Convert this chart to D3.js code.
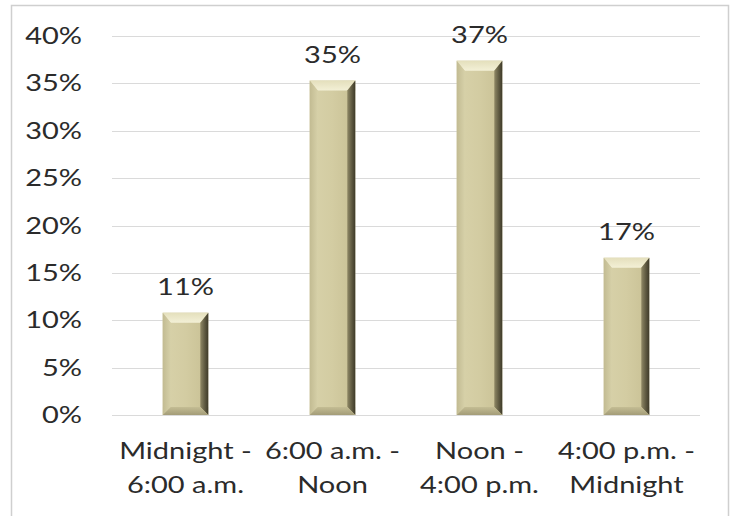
<!DOCTYPE html>
<html>
<head>
<meta charset="utf-8">
<script src="https://cdn.jsdelivr.net/npm/d3@7"></script>
<style>
  html, body { margin: 0; padding: 0; background: #fff; }
  svg { display: block; }
  text { font-family: Lato, "Open Sans", sans-serif; fill: #2b2b2b; }
</style>
</head>
<body>
<svg id="chart" width="734" height="516"></svg>
<script>
// Share of incidents by time of day
const categories = [["Midnight -", "6:00 a.m."], ["6:00 a.m. -", "Noon"], ["Noon -", "4:00 p.m."], ["4:00 p.m. -", "Midnight"]];
const values = [0.108, 0.353, 0.374, 0.166];
const yTicks = [0, 0.05, 0.10, 0.15, 0.20, 0.25, 0.30, 0.35, 0.40];

const width = 734, height = 516;
const margin = { top: 36, right: 34, bottom: 101, left: 112 };
const fontSize = 29;      // text is drawn wide and slightly flattened
const squash = 0.78;
const svg = d3.select("#chart");

// place a text label at (px, baseline py) with the flattened lettering
function label(parent, px, py, str, anchor) {
  return parent.append("text")
    .attr("transform", `translate(${px},${py}) scale(1,${squash})`)
    .attr("text-anchor", anchor || "middle")
    .style("font-size", fontSize + "px")
    .text(str);
}

// outer frame
svg.append("rect")
  .attr("x", 11.5).attr("y", 5.5)
  .attr("width", 717).attr("height", 520)
  .attr("fill", "none").attr("stroke", "#cfcfcf").attr("stroke-width", 1.5);

const x = d3.scaleBand()
  .domain(d3.range(categories.length))
  .range([margin.left, width - margin.right])
  .paddingInner(0.69).paddingOuter(0.345);

const y = d3.scaleLinear()
  .domain([0, 0.40])
  .range([height - margin.bottom, margin.top]);

const pct = d3.format(".0%");

// gridlines
svg.append("g").selectAll("line").data(yTicks).join("line")
  .attr("x1", margin.left).attr("x2", width - margin.right)
  .attr("y1", d => Math.round(y(d)) + 0.5).attr("y2", d => Math.round(y(d)) + 0.5)
  .attr("stroke", "#dadada").attr("stroke-width", 1.2);

// y axis labels
const yg = svg.append("g");
yTicks.forEach(t => label(yg, 82, y(t) + 8, pct(t), "end"));

// x axis labels (two lines)
const xg = svg.append("g");
categories.forEach((lines, i) => {
  const cx = x(i) + x.bandwidth() / 2;
  lines.forEach((ln, j) => label(xg, cx, y(0) + 44 + j * 34, ln));
});

// bevel gradients
const defs = svg.append("defs");
function grad(id, x2, y2, stops) {
  const g = defs.append("linearGradient").attr("id", id)
    .attr("x1", 0).attr("y1", 0).attr("x2", x2).attr("y2", y2);
  stops.forEach(([o, c]) => g.append("stop").attr("offset", o).attr("stop-color", c));
}
grad("face", 1, 0, [[0, "#d8d2aa"], [0.5, "#d3cca2"], [1, "#c8c094"]]);
grad("bevTop", 0, 1, [[0, "#e4dfbc"], [1, "#f3f0d6"]]);
grad("bevLeft", 1, 0, [[0, "#c2bb92"], [1, "#d6d0a8"]]);
grad("bevRight", 1, 0, [[0, "#8f8865"], [0.6, "#5c573f"], [1, "#3e3a29"]]);
grad("bevBottom", 0, 1, [[0, "#c4bd94"], [1, "#a39c78"]]);

const b = 8;
const bars = svg.append("g").selectAll("g").data(values).join("g");
bars.each(function (v, i) {
  const g = d3.select(this);
  const x0 = x(i), x1 = x(i) + x.bandwidth();
  const y0 = y(v), y1 = y(0);
  g.append("rect").attr("x", x0).attr("y", y0).attr("width", x1 - x0).attr("height", y1 - y0).attr("fill", "url(#face)");
  const poly = (pts, fill) => g.append("polygon").attr("points", pts.map(p => p.join(",")).join(" ")).attr("fill", fill);
  poly([[x0, y0], [x1, y0], [x1 - b, y0 + b + 2], [x0 + b, y0 + b + 2]], "url(#bevTop)");
  poly([[x0, y0], [x0 + b, y0 + b + 2], [x0 + b, y1 - b], [x0, y1]], "url(#bevLeft)");
  poly([[x1, y0], [x1, y1], [x1 - b, y1 - b], [x1 - b, y0 + b + 2]], "url(#bevRight)");
  poly([[x0, y1], [x0 + b, y1 - b], [x1 - b, y1 - b], [x1, y1]], "url(#bevBottom)");
  // value label
  label(g, (x0 + x1) / 2, y0 - 18, pct(v));
});
</script>
</body>
</html>
